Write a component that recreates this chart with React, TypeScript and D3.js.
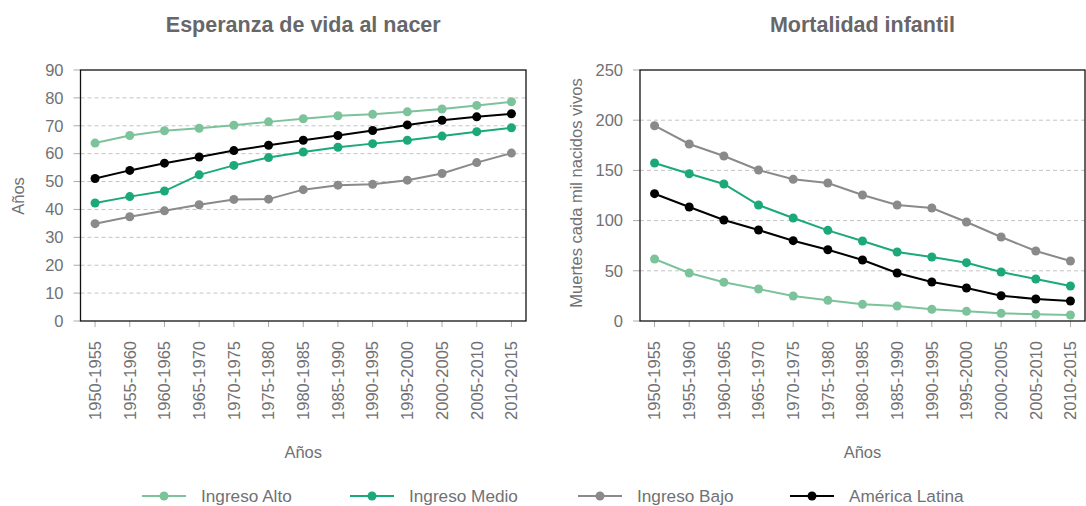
import React from "react";
import * as d3 from "d3";

const periods = ["1950-1955","1955-1960","1960-1965","1965-1970","1970-1975","1975-1980","1980-1985","1985-1990","1990-1995","1995-2000","2000-2005","2005-2010","2010-2015"];

const seriesNames = ["Ingreso Alto", "Ingreso Medio", "Ingreso Bajo", "América Latina"];
const seriesColors = ["#7cc39b", "#1ba97a", "#8a8a8c", "#000000"];

// Esperanza de vida al nacer
const lifeAlto = [63.8, 66.5, 68.2, 69.1, 70.2, 71.4, 72.5, 73.6, 74.1, 75.0, 76.0, 77.3, 78.6];
const lifeMedio = [42.3, 44.6, 46.6, 52.4, 55.8, 58.6, 60.6, 62.3, 63.6, 64.8, 66.3, 67.9, 69.3];
const lifeBajo = [34.9, 37.4, 39.5, 41.7, 43.6, 43.7, 47.1, 48.7, 49.0, 50.5, 52.9, 56.8, 60.2];
const lifeAL = [51.1, 54.0, 56.6, 58.8, 61.1, 63.0, 64.8, 66.5, 68.3, 70.3, 72.0, 73.2, 74.3];

// Mortalidad infantil
const mortAlto = [61.8, 47.8, 38.6, 31.9, 24.9, 20.6, 16.6, 14.9, 11.6, 9.6, 7.6, 6.6, 6.0];
const mortMedio = [157.4, 146.7, 136.5, 115.5, 102.6, 90.3, 79.7, 68.7, 63.7, 58.1, 48.8, 41.8, 34.9];
const mortBajo = [194.5, 176.3, 164.3, 150.4, 141.1, 137.5, 125.5, 115.5, 112.5, 98.6, 83.7, 69.7, 59.8];
const mortAL = [126.8, 113.5, 100.6, 90.6, 80.0, 71.0, 60.8, 47.8, 38.8, 32.9, 25.2, 21.9, 19.9];

const lifeTicks = [0, 10, 20, 30, 40, 50, 60, 70, 80, 90];
const mortTicks = [0, 50, 100, 150, 200, 250];

const FONT = "'Liberation Sans', Arial, Helvetica, sans-serif";
const TXT = "#717174";
const TITLE = "#67676a";

type PanelProps = {
  title: string;
  yLabel: string;
  x0: number;
  x1: number;
  yMax: number;
  ticks: number[];
  data: number[][];
  yLabelX: number;
  yLabelY: number;
};

const TOP = 70;
const BOTTOM = 321;

function Panel({ title, yLabel, x0, x1, yMax, ticks, data, yLabelX, yLabelY }: PanelProps) {
  const x = d3.scalePoint<string>().domain(periods).range([x0, x1]).padding(0.42);
  const y = d3.scaleLinear().domain([0, yMax]).range([BOTTOM, TOP]);
  const cx = (x0 + x1) / 2;
  const line = d3
    .line<number>()
    .x((_, i) => x(periods[i]) as number)
    .y((d) => y(d));
  return (
    <g>
      <text x={cx} y={32} textAnchor="middle" fontSize={21.5} fontWeight="bold" fill={TITLE} fontFamily={FONT}>
        {title}
      </text>
      {ticks.map((t) => (
        <g key={t}>
          {t > 0 && t < yMax && (
            <line x1={x0} x2={x1} y1={y(t)} y2={y(t)} stroke="#c4c4c4" strokeWidth={1} strokeDasharray="4,3" />
          )}
          <line x1={x0 - 7} x2={x0} y1={y(t)} y2={y(t)} stroke="#aaa" strokeWidth={1} />
          <text x={x0 - 17} y={y(t)} dy="0.35em" textAnchor="end" fontSize={16.5} fill={TXT} fontFamily={FONT}>
            {t}
          </text>
        </g>
      ))}
      {periods.map((p) => (
        <g key={p}>
          <line x1={x(p)} x2={x(p)} y1={BOTTOM} y2={BOTTOM + 6} stroke="#aaa" strokeWidth={1} />
          <text
            transform={`translate(${x(p)},${BOTTOM + 20}) rotate(-90)`}
            dy="0.35em"
            textAnchor="end"
            fontSize={16.5}
            fill={TXT}
            fontFamily={FONT}
          >
            {p}
          </text>
        </g>
      ))}
      <rect x={x0} y={TOP} width={x1 - x0} height={BOTTOM - TOP} fill="none" stroke="#111" strokeWidth={1.3} />
      {data.map((vals, si) => (
        <g key={si}>
          <path d={line(vals) || ""} fill="none" stroke={seriesColors[si]} strokeWidth={2} />
          {vals.map((v, i) => (
            <circle key={i} cx={x(periods[i])} cy={y(v)} r={4.5} fill={seriesColors[si]} />
          ))}
        </g>
      ))}
      <text x={cx} y={452} dy="0.35em" textAnchor="middle" fontSize={16.5} fill={TXT} fontFamily={FONT}>
        Años
      </text>
      <text
        transform={`translate(${yLabelX},${yLabelY}) rotate(-90)`}
        dy="0.35em"
        textAnchor="middle"
        fontSize={16.5}
        fill={TXT}
        fontFamily={FONT}
      >
        {yLabel}
      </text>
    </g>
  );
}

const legendX = [142, 350, 578, 790];

export default function App() {
  return (
    <svg width={1086} height={506} style={{ position: "absolute", left: 0, top: 0, background: "#fff" }}>
      <Panel
        title="Esperanza de vida al nacer"
        yLabel="Años"
        x0={80.5}
        x1={526}
        yMax={90}
        ticks={lifeTicks}
        data={[lifeAlto, lifeMedio, lifeBajo, lifeAL]}
        yLabelX={18}
        yLabelY={196}
      />
      <Panel
        title="Mortalidad infantil"
        yLabel="Muertes cada mil nacidos vivos"
        x0={640}
        x1={1085}
        yMax={250}
        ticks={mortTicks}
        data={[mortAlto, mortMedio, mortBajo, mortAL]}
        yLabelX={576}
        yLabelY={193}
      />
      {seriesNames.map((n, i) => (
        <g key={n} transform={`translate(${legendX[i]},496)`}>
          <line x1={0} x2={44} y1={0} y2={0} stroke={seriesColors[i]} strokeWidth={2} />
          <circle cx={22} cy={0} r={4.5} fill={seriesColors[i]} />
          <text x={59} y={0} dy="0.35em" fontSize={17.2} fill={TXT} fontFamily={FONT}>
            {n}
          </text>
        </g>
      ))}
    </svg>
  );
}
